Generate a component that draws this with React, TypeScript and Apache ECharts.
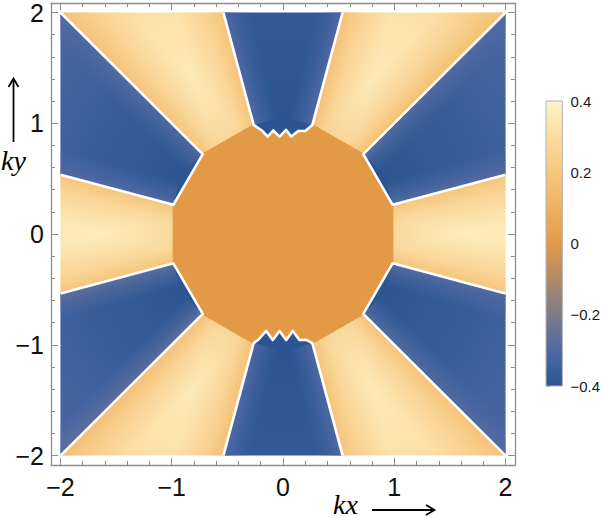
import React, { useEffect, useRef } from "react";
import * as echarts from "echarts";

// ---- field description: 12 angular sectors around a central plateau ----
const sectorStartAngles = [-15, 15, 45, 75, 105, 135, 165, 195, 225, 255, 285, 315];
const sectorInnerValues = [0.4, -0.4, 0.4, -0.41, 0.4, -0.4, 0.4, -0.4, 0.4, -0.41, 0.4, -0.4];
const sectorOuterValues = [0.31, -0.31, 0.28, -0.36, 0.28, -0.31, 0.31, -0.31, 0.28, -0.36, 0.28, -0.31];
const sectorEdgeValues = [0.19, -0.29, 0.17, -0.3, 0.18, -0.29, 0.19, -0.27, 0.17, -0.3, 0.18, -0.29];
const sectorSpan = 30;
const centralRadius = 1.02;
const centralValue = 0.0;
// zig-zag inner borders of the top (75..105) and bottom (255..285) sectors
const topInnerEdge = [
  [0.264, 0.985], [0.2, 0.93], [0.137, 0.93], [0.074, 0.88], [0.027, 0.94],
  [-0.03, 0.88], [-0.087, 0.935], [-0.137, 0.88], [-0.19, 0.935], [-0.264, 0.985],
];
const bottomInnerEdge = [
  [-0.264, -0.985], [-0.226, -0.957], [-0.151, -0.875], [-0.092, -0.957], [-0.031, -0.875],
  [0.029, -0.957], [0.088, -0.875], [0.148, -0.957], [0.208, -0.955], [0.264, -0.985],
];

// ---- colour scale ----
const colorbarValues = [-0.4, -0.3, -0.2, -0.1, 0, 0.1, 0.2, 0.3, 0.4];
const colorbarColors = [
  "#2b5592", "#4f69a5", "#7d7c89", "#b08a69", "#e39a47",
  "#efb161", "#f6c77e", "#fcdca2", "#fff3c8",
];

// ---- axes ----
const axisMin = -2.085;
const axisMax = 2.085;
const axisMajorTicks = [-2, -1, 0, 1, 2];
const axisMinorTicks = [
  -1.8, -1.6, -1.4, -1.2, -0.8, -0.6, -0.4, -0.2, 0.2, 0.4, 0.6, 0.8, 1.2, 1.4, 1.6, 1.8,
];
const colorbarMin = -0.4;
const colorbarMax = 0.4;
const colorbarStep = 0.2;

const DEG = Math.PI / 180;
const HALF = 2;
const R_MAX = 2.85;

function hexToRgb(h: string) {
  const n = parseInt(h.slice(1), 16);
  return [(n >> 16) & 255, (n >> 8) & 255, n & 255];
}
function valueColor(v: number, alpha = 1) {
  const lo = colorbarValues[0];
  const hi = colorbarValues[colorbarValues.length - 1];
  const t = Math.max(0, Math.min(1, (v - lo) / (hi - lo))) * (colorbarColors.length - 1);
  const i = Math.min(Math.floor(t), colorbarColors.length - 2);
  const f = t - i;
  const a = hexToRgb(colorbarColors[i]);
  const b = hexToRgb(colorbarColors[i + 1]);
  const c = a.map((x, k) => Math.round(x + (b[k] - x) * f));
  return `rgba(${c[0]},${c[1]},${c[2]},${alpha})`;
}
function minus(s: string) {
  return s.replace("-", "\u2212");
}

function rayToSquare(deg: number) {
  const c = Math.cos(deg * DEG);
  const s = Math.sin(deg * DEG);
  const t = HALF / Math.max(Math.abs(c), Math.abs(s));
  return [t * c, t * s];
}
function vertex(deg: number, scale = 1) {
  return [centralRadius * scale * Math.cos(deg * DEG), centralRadius * scale * Math.sin(deg * DEG)];
}
function exitSquare(p: number[], d: number[]) {
  let t = Infinity;
  for (let k = 0; k < 2; k++) {
    if (d[k] > 1e-9) t = Math.min(t, (HALF - p[k]) / d[k]);
    else if (d[k] < -1e-9) t = Math.min(t, (-HALF - p[k]) / d[k]);
  }
  return [p[0] + t * d[0], p[1] + t * d[1]];
}
function innerEdgeFor(a1: number, a2: number) {
  if (a1 === 75) return topInnerEdge;
  if (a1 === 255) return bottomInnerEdge;
  return [vertex(a1), vertex(a2)];
}

const sectorData = sectorStartAngles.map((a, i) => [
  a, a + sectorSpan, sectorInnerValues[i], sectorOuterValues[i], sectorEdgeValues[i],
]);
const positiveSectors = sectorData.filter((d) => d[2] > 0);
const negativeSectors = sectorData.filter((d) => d[2] < 0);

const makeSectorRender = (fromOrigin: boolean) => (params: any, api: any) => {
  const a1 = api.value(0);
  const a2 = api.value(1);
  const vIn = api.value(2);
  const vOut = api.value(3);
  const vEdge = api.value(4);
  const positive = vIn > 0;
  const edgeWidth = positive ? 0.42 : 0.22;
  const inner = fromOrigin ? [[0, 0]] : innerEdgeFor(a1, a2);
  const pts = [...inner, rayToSquare(a2), rayToSquare(a1)].map((p) => api.coord(p));
  const c0 = api.coord([0, 0]);
  const rPix = api.size([R_MAX, 0])[0];
  const base = {
    type: "polygon",
    shape: { points: pts },
    style: {
      fill: {
        type: "radial", x: c0[0], y: c0[1], r: rPix, global: true,
        colorStops: [
          { offset: (centralRadius * 0.96) / R_MAX, color: valueColor(vIn) },
          { offset: 1, color: valueColor(vOut) },
        ],
      },
    },
  };
  const strips = [
    [a1, 1],
    [a2, -1],
  ].map(([ang, sgn]) => {
    const c = Math.cos(ang * DEG);
    const s = Math.sin(ang * DEG);
    const d = [c, s];
    const n = [-s * sgn, c * sgn];
    // sectors drawn under the central plateau start their edge shading inside it
    const p0 = vertex(ang, fromOrigin ? 0.55 : 1);
    const p1 = rayToSquare(ang);
    const q0 = [p0[0] + n[0] * edgeWidth, p0[1] + n[1] * edgeWidth];
    const q1 = exitSquare(q0, d);
    const g0 = api.coord(p0);
    const g1 = api.coord(q0);
    return {
      type: "polygon",
      shape: { points: [p0, p1, q1, q0].map((p) => api.coord(p)) },
      style: {
        fill: {
          type: "linear", x: g0[0], y: g0[1], x2: g1[0], y2: g1[1], global: true,
          colorStops: [
            { offset: 0, color: valueColor(vEdge, 1) },
            { offset: 0.35, color: valueColor(vEdge, 0.55) },
            { offset: 1, color: valueColor(vEdge, 0) },
          ],
        },
      },
    };
  });
  return { type: "group", children: [base, ...strips] };
};

const renderCentral = (params: any, api: any) => {
  const pts = sectorStartAngles.map((a) => api.coord(vertex(a)));
  return {
    type: "polygon",
    shape: { points: pts },
    style: { fill: valueColor(api.value(0)), stroke: valueColor(api.value(0)), lineWidth: 1.5 },
  };
};

const renderBorders = (params: any, api: any) => {
  const a1 = api.value(0);
  const a2 = api.value(1);
  const pts = [rayToSquare(a1), ...innerEdgeFor(a1, a2), rayToSquare(a2)].map((p) => api.coord(p));
  return {
    type: "polyline",
    shape: { points: pts },
    style: { stroke: "#ffffff", lineWidth: 2.6, fill: null, lineJoin: "round" },
  };
};

const renderColorbar = (params: any, api: any) => {
  const tl = api.coord([api.value(0), api.value(3)]);
  const br = api.coord([api.value(2), api.value(1)]);
  const stops = colorbarValues.map((v, i) => ({
    offset: 1 - (v - colorbarMin) / (colorbarMax - colorbarMin),
    color: colorbarColors[i],
  }));
  return {
    type: "rect",
    shape: { x: tl[0], y: tl[1], width: br[0] - tl[0], height: br[1] - tl[1] },
    style: {
      fill: { type: "linear", x: 0, y: 0, x2: 0, y2: 1, colorStops: stops.reverse() },
      stroke: "#b4b4b4",
      lineWidth: 1,
    },
  };
};

const frameColor = "#8d8d8d";
const labelFont = "'Liberation Sans', Arial, sans-serif";

function frameAxis(kind: "x" | "y", position: string, major: boolean, labels: boolean) {
  return {
    gridIndex: 0,
    type: "value",
    min: axisMin,
    max: axisMax,
    position,
    axisLine: { show: major, onZero: false, lineStyle: { color: frameColor, width: 1.3 } },
    axisTick: {
      show: true,
      inside: true,
      length: major ? 7 : 4,
      customValues: major ? axisMajorTicks : axisMinorTicks,
      lineStyle: { color: frameColor, width: 1 },
    },
    axisLabel: {
      show: labels,
      customValues: axisMajorTicks,
      formatter: (v: number) => minus(String(v)),
      fontSize: 25,
      color: "#111",
      fontFamily: labelFont,
      margin: kind === "x" ? 9 : 7,
    },
    splitLine: { show: false },
  };
}

export default function App() {
  const ref = useRef<HTMLDivElement>(null);
  useEffect(() => {
    document.body.style.margin = "0";
    const chart = echarts.init(ref.current!, null, { renderer: "svg" });
    const option: any = {
      animation: false,
      backgroundColor: "#ffffff",
      grid: [
        { left: 51, top: 1, width: 464, height: 464 },
        { left: 546, top: 101, width: 17, height: 285 },
      ],
      xAxis: [
        frameAxis("x", "bottom", true, true),
        frameAxis("x", "bottom", false, false),
        frameAxis("x", "top", true, false),
        frameAxis("x", "top", false, false),
        { gridIndex: 1, type: "value", min: 0, max: 1, show: false },
      ],
      yAxis: [
        frameAxis("y", "left", true, true),
        frameAxis("y", "left", false, false),
        frameAxis("y", "right", true, false),
        frameAxis("y", "right", false, false),
        {
          gridIndex: 1,
          type: "value",
          min: colorbarMin,
          max: colorbarMax,
          interval: colorbarStep,
          position: "right",
          axisLine: { show: true, lineStyle: { color: "#b4b4b4", width: 1 } },
          axisTick: { show: true, length: 4, lineStyle: { color: "#a0a0a0" } },
          minorTick: { show: true, splitNumber: 4, length: 2.5, lineStyle: { color: "#b0b0b0" } },
          axisLabel: {
            fontSize: 15,
            color: "#1a1a1a",
            fontFamily: labelFont,
            margin: 8,
            formatter: (v: number) => (Math.abs(v) < 1e-9 ? "0" : minus(v.toFixed(1))),
          },
          splitLine: { show: false },
        },
      ],
      series: [
        {
          type: "custom",
          name: "positive",
          xAxisIndex: 0,
          yAxisIndex: 0,
          silent: true,
          renderItem: makeSectorRender(true),
          data: positiveSectors,
        },
        {
          type: "custom",
          name: "central",
          xAxisIndex: 0,
          yAxisIndex: 0,
          silent: true,
          renderItem: renderCentral,
          data: [[centralValue]],
        },
        {
          type: "custom",
          name: "negative",
          xAxisIndex: 0,
          yAxisIndex: 0,
          silent: true,
          renderItem: makeSectorRender(false),
          data: negativeSectors,
        },
        {
          type: "custom",
          name: "borders",
          xAxisIndex: 0,
          yAxisIndex: 0,
          silent: true,
          renderItem: renderBorders,
          data: negativeSectors,
        },
        {
          type: "custom",
          name: "colorbar",
          xAxisIndex: 4,
          yAxisIndex: 4,
          silent: true,
          renderItem: renderColorbar,
          data: [[0, colorbarMin, 1, colorbarMax]],
        },
      ],
      graphic: [
        {
          type: "text",
          x: 1,
          y: 160,
          style: {
            text: "ky",
            font: "italic 28px 'Liberation Serif', 'Times New Roman', serif",
            fill: "#000",
            verticalAlign: "middle",
          },
        },
        { type: "line", shape: { x1: 13.5, y1: 142, x2: 13.5, y2: 79 }, style: { stroke: "#000", lineWidth: 1.8 } },
        {
          type: "polyline",
          shape: { points: [[8.5, 87], [13.5, 78.5], [18.5, 87]] },
          style: { stroke: "#000", lineWidth: 1.8, fill: null },
        },
        {
          type: "text",
          x: 333,
          y: 504,
          style: {
            text: "kx",
            font: "italic 28px 'Liberation Serif', 'Times New Roman', serif",
            fill: "#000",
            verticalAlign: "middle",
          },
        },
        { type: "line", shape: { x1: 372, y1: 510, x2: 434, y2: 510 }, style: { stroke: "#000", lineWidth: 1.8 } },
        {
          type: "polyline",
          shape: { points: [[426, 505], [434.5, 510], [426, 515]] },
          style: { stroke: "#000", lineWidth: 1.8, fill: null },
        },
      ],
    };
    chart.setOption(option);
    return () => chart.dispose();
  }, []);
  return <div ref={ref} style={{ width: 603, height: 518 }} />;
}
